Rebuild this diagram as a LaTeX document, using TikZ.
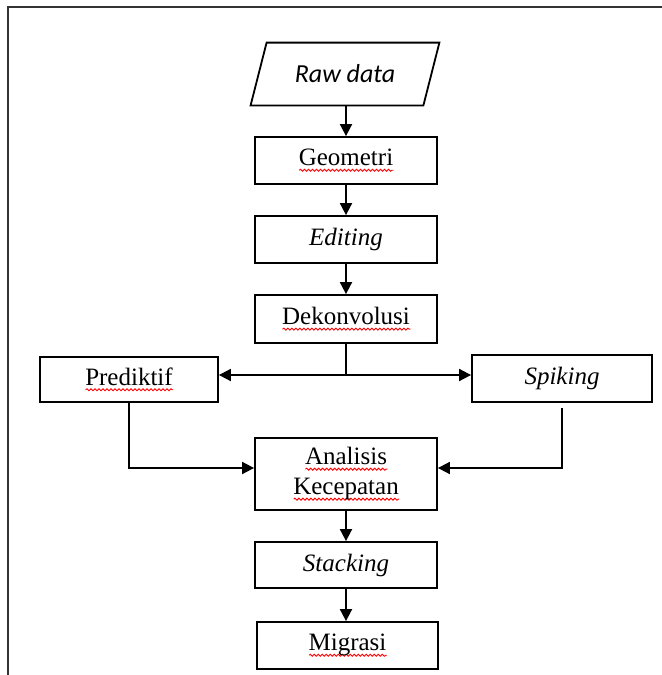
\documentclass[tikz,border=0pt]{standalone}
\usepackage{fontspec}
\setmainfont{Liberation Serif}
\newfontfamily\calibri{Carlito}
\usetikzlibrary{arrows.meta,decorations.pathmorphing}

% red spell-check wave under a word
\newlength{\spellwd}
\newcommand{\spell}[1]{\settowidth{\spellwd}{#1}%
    \rlap{\tikz[baseline=0pt]\draw[red, line width=0.45pt, decorate,
        decoration={snake, amplitude=0.5pt, segment length=2pt}]
        (0pt,-2.2pt) -- (\spellwd,-2.2pt);}#1}

\tikzset{
    box/.style={draw, line width=0.9pt, minimum width=91pt, minimum height=23.5pt,
        inner sep=2pt, align=center, font=\fontsize{12.5}{15}\selectfont},
    arr/.style={line width=0.9pt, -{Triangle[length=6pt,width=6pt]}},
    link/.style={line width=0.9pt}
}

\begin{document}
\begin{tikzpicture}[x=0.5pt,y=-0.5pt]
    \useasboundingbox (0,0) rectangle (662,675);
    \draw[line width=1.1pt, black!80] (8,675) -- (8,7) -- (662,7);

    % Input
    \node[minimum width=93pt, minimum height=31pt, inner sep=0pt,
        font=\calibri\itshape\fontsize{13}{15}\selectfont] (raw) at (345,74) {Raw data};
    \draw[line width=0.9pt] ([xshift=-0.5pt]raw.south west) -- ([xshift=7.5pt]raw.north west)
        -- ([xshift=0.5pt]raw.north east) -- ([xshift=-7.5pt]raw.south east) -- cycle;

    % Main chain
    \node[box] (geo)  at (346,160.5) {\spell{Geometri}};
    \node[box, minimum height=23.5pt] (edit) at (346,239.5) {\textit{Editing}};
    \node[box, minimum height=24pt] (dek)  at (346,319) {\spell{Dekonvolusi}};
    \node[box, minimum width=89pt, minimum height=22.5pt] (pred) at (129,379.5) {\spell{Prediktif}};
    \node[box, minimum width=90pt] (spik) at (562,378.5) {\textit{Spiking}};
    \node[box, minimum height=36pt] (ana)  at (346,474) {\spell{Analisis}\\\spell{Kecepatan}};
    \node[box, minimum height=23pt] (stack) at (346,565) {\textit{Stacking}};
    \node[box, minimum width=90.5pt] (mig) at (347.5,645.5) {\spell{Migrasi}};

    % Connectors
    \draw[arr] (raw.south -| geo) -- (geo);
    \draw[arr] (geo) -- (edit);
    \draw[arr] (edit) -- (dek);
    \coordinate (split) at (346,375);
    \draw[link] (dek) -- (split);
    \draw[arr] (split) -- (split -| pred.east);
    \draw[arr] (split) -- (split -| spik.west);
    \draw[arr] (pred) |- ([yshift=3pt]ana.west);
    \draw[arr] ([yshift=-2.5pt]spik.south) |- ([yshift=3pt]ana.east);
    \draw[arr] (ana) -- (stack);
    \draw[arr] (stack) -- (stack |- mig.north);
\end{tikzpicture}
\end{document}
